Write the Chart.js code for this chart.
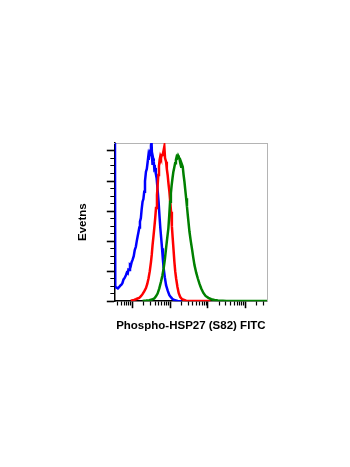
<!DOCTYPE html>
<html>
<head>
<meta charset="utf-8">
<script src="https://cdn.jsdelivr.net/npm/chart.js@4/dist/chart.umd.min.js"></script>
<style>
  body { margin: 0; background: #fff; }
</style>
</head>
<body>
<canvas id="histChart" width="350" height="467"></canvas>
<script>
// fluorescence intensity (x) and event counts (y) per histogram
const blueIntensity = [34, 35, 38, 41, 44, 48, 51, 54, 58, 62, 67, 71, 75, 78, 82, 86, 90, 95, 100, 108, 115, 123, 130, 137, 145, 152, 158, 167, 175, 185, 195, 205, 215, 228, 240, 251, 262, 270, 279, 290, 300, 310, 321, 331, 341, 354, 367, 380, 396, 415, 437, 465, 493, 520, 548, 578, 608, 640, 671, 720, 778, 860, 953, 1060, 1167, 1350, 1585, 2000];
const blueCounts = [160, 9.5, 9, 8.5, 9.3, 10.5, 11, 12, 14.5, 15.5, 17.3, 19, 18.5, 21, 20.7, 24, 23.5, 26, 27.3, 30, 34, 36.2, 40, 43, 46.2, 49, 53, 55.3, 61, 66.2, 68, 72.9, 80, 86.2, 88, 92, 96, 94, 97.3, 101, 98, 104, 105.3, 96, 90.7, 95, 93, 88, 88.7, 85, 82, 74, 66.2, 57, 48.7, 42, 35.3, 28, 22, 16, 10.7, 7, 4, 2.5, 1.3, 0.6, 0.2, 0];

const redIntensity = [90, 110, 123, 137, 151, 168, 185, 205, 228, 247, 267, 288, 310, 325, 341, 360, 379, 400, 421, 447, 465, 485, 505, 525, 548, 571, 600, 631, 665, 700, 731, 778, 815, 857, 905, 953, 1005, 1057, 1110, 1167, 1230, 1294, 1360, 1436, 1560, 1686, 1850, 2076, 2655, 5000, 11800];
const redCounts = [0.4, 0.9, 1.3, 1.8, 2.2, 3.3, 4.7, 6.5, 8.7, 11.5, 15.3, 20, 26.2, 31, 37.3, 43, 48.7, 55, 62, 70.7, 77, 84, 90, 94, 96.5, 95.3, 97.3, 97.3, 100, 102.9, 95.3, 92.9, 88, 84, 78, 72.9, 66, 59.5, 50, 42, 34, 26.2, 20, 15.3, 9.5, 5.3, 2.8, 1.3, 0.3, 0.2, 0.2];

const greenIntensity = [185, 230, 279, 330, 379, 420, 464, 515, 571, 620, 671, 725, 778, 835, 896, 945, 994, 1045, 1096, 1155, 1217, 1285, 1352, 1420, 1490, 1555, 1624, 1690, 1758, 1850, 1953, 2050, 2154, 2270, 2392, 2520, 2655, 2790, 2931, 3080, 3251, 3520, 3837, 4100, 4420, 4900, 5411, 6000, 6668, 7600, 8686, 10300, 12330, 15000, 18490, 25000, 30970, 60000, 120000, 250000, 370000];
const greenCounts = [0.2, 0.4, 0.7, 1.1, 1.8, 3.2, 5.1, 8.5, 12.9, 17, 21.8, 28, 35.1, 42, 48.5, 57, 66.2, 72, 77.3, 82, 86.2, 89, 91.8, 94, 96.2, 95.5, 96.9, 96, 95.1, 92, 89.5, 91, 89.5, 84, 79.5, 74, 68.5, 63, 57.3, 52, 46.2, 40, 34, 29, 24, 19, 15.1, 11.5, 8.5, 5.5, 3.5, 2.2, 1.3, 0.8, 0.5, 0.3, 0.2, 0.15, 0.1, 0.1, 0.1];

// axis ticks
const xMajorTicks = [100, 1000, 10000, 100000];
const xMinorTicks = [40, 50, 60, 70, 80, 90, 200, 300, 400, 500, 600, 700, 800, 900, 2000, 3000, 4000, 5000, 6000, 7000, 8000, 9000, 20000, 30000, 40000, 50000, 60000, 70000, 80000, 90000, 200000, 300000];
const yMajorTicks = [0, 20, 40, 60, 80, 100];
const yMinorTicks = [5, 10, 15, 25, 30, 35, 45, 50, 55, 65, 70, 75, 85, 90, 95];

const xRange = [34, 370000];
const yRange = [0, 105.3];

function toPoints(xs, ys) {
    return xs.map((x, i) => ({ x: x, y: ys[i] }));
}

function series(label, xs, ys, color, order) {
    return {
        label: label,
        data: toPoints(xs, ys),
        borderColor: color,
        backgroundColor: color,
        borderWidth: 2.5,
        pointRadius: 0,
        tension: 0,
        order: order
    };
}

const isMajorX = v => xMajorTicks.includes(v);
const isMajorY = v => yMajorTicks.includes(v);

new Chart(document.getElementById('histChart'), {
    type: 'line',
    data: {
        datasets: [
            series('Green', greenIntensity, greenCounts, '#008000', 1),
            series('Red', redIntensity, redCounts, '#ff0000', 2),
            series('Blue', blueIntensity, blueCounts, '#0000ff', 3)
        ]
    },
    options: {
        responsive: false,
        animation: false,
        layout: {
            padding: { left: 76, right: 83, top: 143, bottom: 134 }
        },
        plugins: {
            legend: { display: false },
            tooltip: { enabled: false }
        },
        scales: {
            x: {
                type: 'logarithmic',
                position: 'bottom',
                min: xRange[0],
                max: xRange[1],
                afterBuildTicks: scale => {
                    scale.ticks = xMajorTicks.concat(xMinorTicks)
                        .filter(v => v >= xRange[0] && v <= xRange[1])
                        .sort((a, b) => a - b)
                        .map(v => ({ value: v }));
                },
                ticks: { display: false },
                grid: {
                    drawOnChartArea: false,
                    drawTicks: true,
                    tickLength: 7,
                    tickColor: '#000',
                    tickWidth: ctx => isMajorX(ctx.tick.value) ? 1.6 : 1.2,
                    tickBorderDash: ctx => isMajorX(ctx.tick.value) ? [] : [4, 40]
                },
                border: { color: '#000', width: 1.5 },
                title: {
                    display: true,
                    text: 'Phospho-HSP27 (S82) FITC',
                    color: '#000',
                    font: { family: 'Liberation Sans, Arial, sans-serif', size: 11.5, weight: 'bold' },
                    padding: { top: 11, bottom: 0 }
                }
            },
            y: {
                type: 'linear',
                position: 'left',
                min: yRange[0],
                max: yRange[1],
                afterBuildTicks: scale => {
                    scale.ticks = yMajorTicks.concat(yMinorTicks)
                        .sort((a, b) => a - b)
                        .map(v => ({ value: v }));
                },
                ticks: { display: false },
                grid: {
                    drawOnChartArea: false,
                    drawTicks: true,
                    tickLength: 8,
                    tickColor: '#000',
                    tickWidth: ctx => isMajorY(ctx.tick.value) ? 1.6 : 1.2,
                    tickBorderDash: ctx => isMajorY(ctx.tick.value) ? [] : [0, 3.5, 4.5, 40]
                },
                border: { color: '#000', width: 1.5 },
                title: {
                    display: true,
                    text: 'Evetns',
                    color: '#000',
                    font: { family: 'Liberation Sans, Arial, sans-serif', size: 11.5, weight: 'bold' },
                    padding: { top: 0, bottom: 17 }
                }
            },
            xTop: {
                type: 'linear',
                position: 'top',
                ticks: { display: false },
                grid: { display: false, drawTicks: false },
                border: { color: '#b4b4b4', width: 1 }
            },
            yRight: {
                type: 'linear',
                position: 'right',
                ticks: { display: false },
                grid: { display: false, drawTicks: false },
                border: { color: '#b4b4b4', width: 1 }
            }
        }
    }
});
</script>
</body>
</html>
